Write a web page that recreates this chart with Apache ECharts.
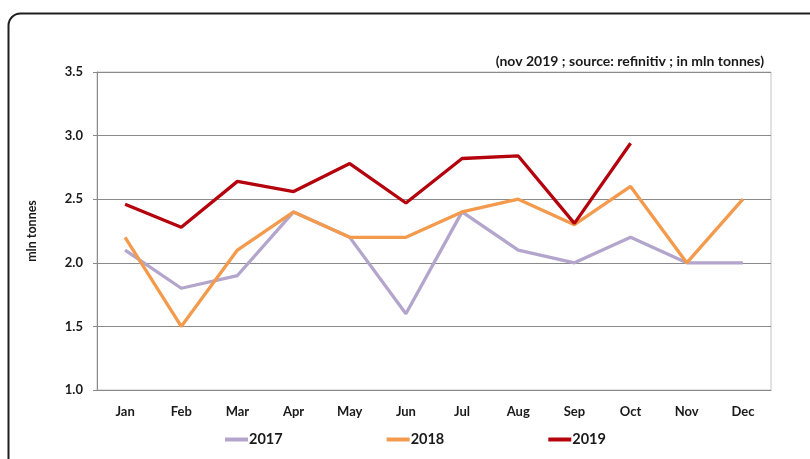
<!DOCTYPE html>
<html>
<head>
<meta charset="utf-8">
<script src="https://cdn.jsdelivr.net/npm/echarts@6/dist/echarts.min.js"></script>
<style>
  html, body { margin: 0; padding: 0; background: #fff; }
  #chart { width: 810px; height: 459px; }
</style>
</head>
<body>
<div id="chart"></div>
<script>
// Monthly volumes, mln tonnes
const months = ['Jan', 'Feb', 'Mar', 'Apr', 'May', 'Jun', 'Jul', 'Aug', 'Sep', 'Oct', 'Nov', 'Dec'];
const values2017 = [2.1, 1.8, 1.9, 2.4, 2.2, 1.6, 2.4, 2.1, 2.0, 2.2, 2.0, 2.0];
const values2018 = [2.2, 1.5, 2.1, 2.4, 2.2, 2.2, 2.4, 2.5, 2.3, 2.6, 2.0, 2.5];
const values2019 = [2.46, 2.28, 2.64, 2.56, 2.78, 2.47, 2.82, 2.84, 2.31, 2.94];
const yTicks = { min: 1.0, max: 3.5, step: 0.5 };
const subtitle = '(nov 2019 ; source: refinitiv ; in mln tonnes)';

const FONT = 'Lato, "Open Sans", sans-serif';
const chart = echarts.init(document.getElementById('chart'), null, { renderer: 'canvas' });

chart.setOption({
  animation: false,
  backgroundColor: '#ffffff',
  graphic: [{
    type: 'rect',
    shape: { x: 8.5, y: 13.5, width: 900, height: 600, r: 12 },
    style: { fill: 'none', stroke: '#1e1e1e', lineWidth: 2 },
    silent: true
  }],
  title: {
    text: subtitle,
    right: 41,
    top: 49,
    textStyle: { fontFamily: FONT, fontSize: 14, fontWeight: 'bold', color: '#1a1a1a' }
  },
  legend: {
    bottom: 7,
    left: 220,
    itemGap: 104,
    itemWidth: 23,
    itemHeight: 4,
    icon: 'rect',
    textStyle: { fontFamily: FONT, fontSize: 14.5, fontWeight: 'bold', color: '#1a1a1a', padding: [0, 0, 0, -4] },
    data: ['2017', '2018', '2019']
  },
  grid: {
    left: 97, right: 39, top: 72, bottom: 69,
    show: true, borderColor: '#c4c4c4', borderWidth: 1
  },
  xAxis: {
    type: 'category',
    data: months,
    boundaryGap: true,
    axisLine: { lineStyle: { color: '#8a8a8a', width: 1 } },
    axisTick: { show: false },
    axisLabel: { margin: 15, fontFamily: FONT, fontSize: 13, fontWeight: 'bold', color: '#1a1a1a' }
  },
  yAxis: {
    type: 'value',
    min: yTicks.min,
    max: yTicks.max,
    interval: yTicks.step,
    name: 'mln tonnes',
    nameLocation: 'middle',
    nameGap: 59,
    nameTextStyle: { fontFamily: FONT, fontSize: 12.5, fontWeight: 'bold', color: '#1a1a1a' },
    axisLine: { show: true, lineStyle: { color: '#8a8a8a', width: 1 } },
    axisTick: { show: true, length: 4, lineStyle: { color: '#8a8a8a' } },
    splitLine: { lineStyle: { color: '#8a8a8a', width: 1 } },
    axisLabel: {
      margin: 14, fontFamily: FONT, fontSize: 13, fontWeight: 'bold', color: '#1a1a1a',
      formatter: v => v.toFixed(1)
    }
  },
  series: [
    { name: '2017', type: 'line', data: values2017, symbol: 'none', color: '#b3a5cc', lineStyle: { width: 3.3 } },
    { name: '2018', type: 'line', data: values2018, symbol: 'none', color: '#f39a4c', lineStyle: { width: 3.3 } },
    { name: '2019', type: 'line', data: values2019, symbol: 'none', color: '#b5030d', lineStyle: { width: 3.3 } }
  ]
});
</script>
</body>
</html>
